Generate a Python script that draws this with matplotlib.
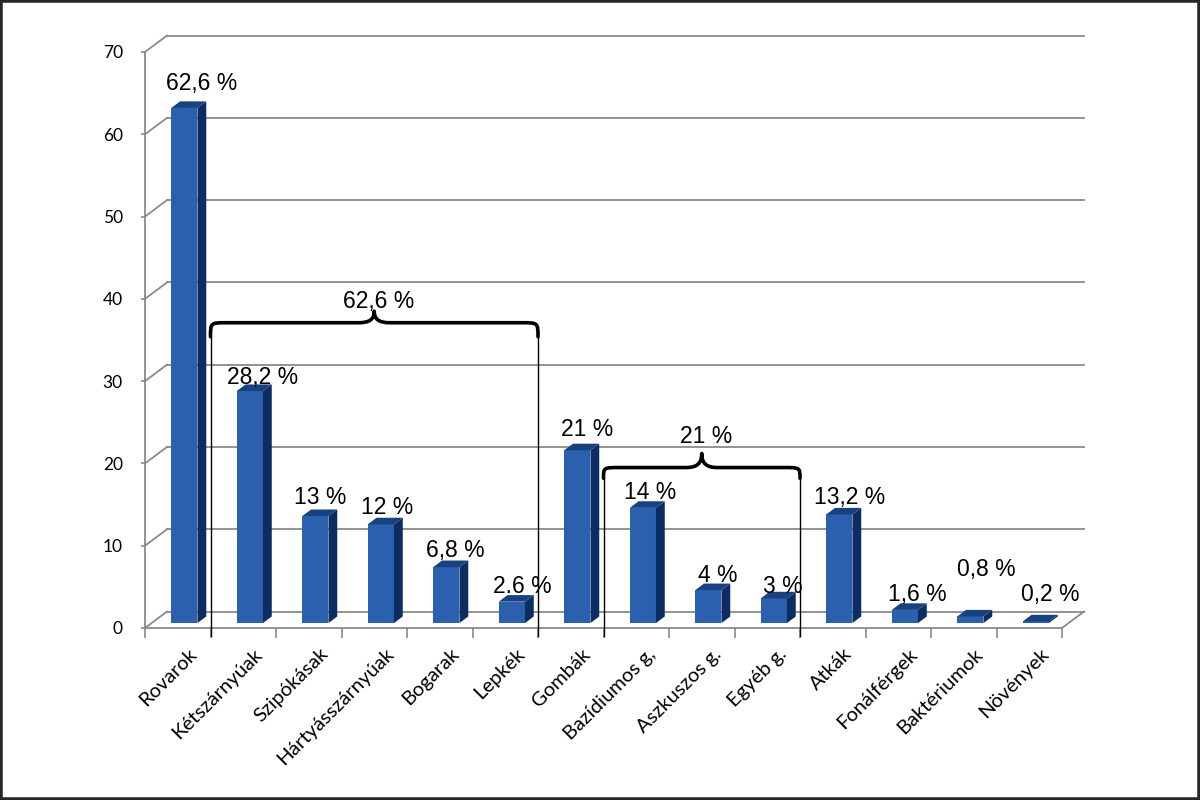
import matplotlib
matplotlib.use("Agg")
import matplotlib.pyplot as plt
from matplotlib.patches import Polygon, Rectangle, PathPatch
from matplotlib.path import Path

# ---------------- data ----------------
categories = ["Rovarok", "Kétszárnyúak", "Szipókásak", "Hártyásszárnyúak", "Bogarak",
              "Lepkék", "Gombák", "Bazídiumos g,", "Aszkuszos g.", "Egyéb g.",
              "Atkák", "Fonálférgek", "Baktériumok", "Növények"]
values = [62.6, 28.2, 13, 12, 6.8, 2.6, 21, 14, 4, 3, 13.2, 1.6, 0.8, 0.2]
value_labels = ["62,6 %", "28,2 %", "13 %", "12 %", "6,8 %", "2.6 %", "21 %",
                "14 %", "4 %", "3 %", "13,2 %", "1,6 %", "0,8 %", "0,2 %"]
yticks = [0, 10, 20, 30, 40, 50, 60, 70]
# groups: (first index, last index, label)
groups = [(1, 5, "62,6 %"), (7, 9, "21 %")]

# label placement (data units), kept apart from the data
label_y = [66.2, 30.5, 15.8, 14.6, 9.4, 5.0, 24.1, 16.5, 6.4, 5.1, 15.8, 4.1, 7.05, 4.1]
label_dx = [0.37, 0.30, 0.17, 0.19, 0.23, 0.26, 0.25, 0.21, 0.25, 0.24, 0.26, 0.29, 0.35, 0.32]
# brace geometry per group: (y_end, y_arm, y_tip, y_label)
brace_geom = [(35.4, 37.1, 38.5, 39.7), (18.2, 19.5, 21.2, 23.3)]

# ---------------- style ----------------
FRONT = "#2A60AE"
SIDE = "#0C2C62"
TOP = "#18417F"
GRID = "#8A8A8A"
DX, DY = 0.336, 2.0          # full depth offset of the 3D box in data units
F0, F1 = 0.30, 0.70          # bar depth range (fraction of box depth)
BW = 0.40                    # bar front width

fig = plt.figure(figsize=(12, 8), dpi=100)
ax = fig.add_axes([145 / 1200, 172 / 800, 917 / 1200, 576 / 800])
ax.set_xlim(-0.5, len(categories) - 0.5)
ax.set_ylim(0, 70)
ax.patch.set_visible(False)
for s in ["top", "right", "bottom", "left"]:
    ax.spines[s].set_visible(False)

x_left, x_right = -0.5, len(categories) - 0.5

# back wall gridlines and connectors
for t in yticks:
    ax.plot([x_left + DX, x_right + DX], [t + DY, t + DY], color=GRID, lw=1.3,
            clip_on=False, zorder=1)
    ax.plot([x_left, x_left + DX], [t, t + DY], color=GRID, lw=1.3, clip_on=False, zorder=1)
# front axis & floor
ax.plot([x_left, x_left], [0, 70], color=GRID, lw=1.3, clip_on=False, zorder=1)
ax.plot([x_left, x_right], [0, 0], color=GRID, lw=1.3, clip_on=False, zorder=1)
ax.plot([x_right, x_right + DX], [0, DY], color=GRID, lw=1.3, clip_on=False, zorder=1)

# y ticks
ax.set_yticks(yticks)
ax.set_yticklabels([str(t) for t in yticks], fontfamily="Lato", fontsize=12.5)
ax.tick_params(axis="y", length=3, color=GRID, width=1.2, pad=13)
# x ticks at category boundaries
ax.set_xticks([b - 0.5 for b in range(len(categories) + 1)])
ax.set_xticklabels([])
ax.tick_params(axis="x", length=7, color=GRID, width=1.2, direction="out")

# bars
for i, v in enumerate(values):
    x0 = i - BW / 2
    ox0, oy0 = F0 * DX, F0 * DY
    ox1, oy1 = F1 * DX, F1 * DY
    front = Rectangle((x0 + ox0, oy0), BW, v, facecolor=FRONT, edgecolor="none",
                      clip_on=False, zorder=3)
    side = Polygon([(x0 + BW + ox0, oy0), (x0 + BW + ox1, oy1),
                    (x0 + BW + ox1, v + oy1), (x0 + BW + ox0, v + oy0)],
                   closed=True, facecolor=SIDE, edgecolor="none", clip_on=False, zorder=3)
    top = Polygon([(x0 + ox0, v + oy0), (x0 + BW + ox0, v + oy0),
                   (x0 + BW + ox1, v + oy1), (x0 + ox1, v + oy1)],
                  closed=True, facecolor=TOP, edgecolor="none", clip_on=False, zorder=3)
    ax.add_patch(front)
    ax.add_patch(side)
    ax.add_patch(top)
    ax.text(i + label_dx[i], label_y[i], value_labels[i], ha="center", va="center",
            fontfamily="Liberation Sans", fontsize=16.5, color="black", zorder=5)

# category labels
for i, c in enumerate(categories):
    ax.text(i + 0.16, -2.1, c, rotation=45, rotation_mode="anchor", ha="right", va="top",
            fontfamily="Lato", fontsize=14.5, color="black", clip_on=False)


def brace(xa, xb, ye, ya, yt, w=0.25, wc=0.24):
    xm = (xa + xb) / 2
    verts = [(xa, ye),
             (xa, ya), (xa, ya), (xa + w, ya),
             (xm - wc, ya),
             (xm - wc * 0.35, ya), (xm, ya + (yt - ya) * 0.25), (xm, yt),
             (xm, ya + (yt - ya) * 0.25), (xm + wc * 0.35, ya), (xm + wc, ya),
             (xb - w, ya),
             (xb, ya), (xb, ya), (xb, ye)]
    codes = [Path.MOVETO,
             Path.CURVE4, Path.CURVE4, Path.CURVE4,
             Path.LINETO,
             Path.CURVE4, Path.CURVE4, Path.CURVE4,
             Path.CURVE4, Path.CURVE4, Path.CURVE4,
             Path.LINETO,
             Path.CURVE4, Path.CURVE4, Path.CURVE4]
    return PathPatch(Path(verts, codes), facecolor="none", edgecolor="black", lw=2.6,
                     capstyle="round", joinstyle="round", clip_on=False, zorder=4)


for (a, b, lab), (ye, ya, yt, yl) in zip(groups, brace_geom):
    xa, xb = a - 0.5, b + 0.5
    ax.add_patch(brace(xa, xb, ye, ya, yt))
    for xv in (xa, xb):
        ax.plot([xv, xv], [-1.0, ye], color="black", lw=1.0, clip_on=False, zorder=4)
    ax.text((xa + xb) / 2 + 0.06, yl, lab, ha="center", va="center",
            fontfamily="Liberation Sans", fontsize=16.5, color="black", zorder=5)

# figure border
fig.patches.append(Rectangle((0, 0), 1, 1, transform=fig.transFigure, fill=False,
                             lw=4, edgecolor="#262626"))

fig.savefig("out.png", dpi=100)
